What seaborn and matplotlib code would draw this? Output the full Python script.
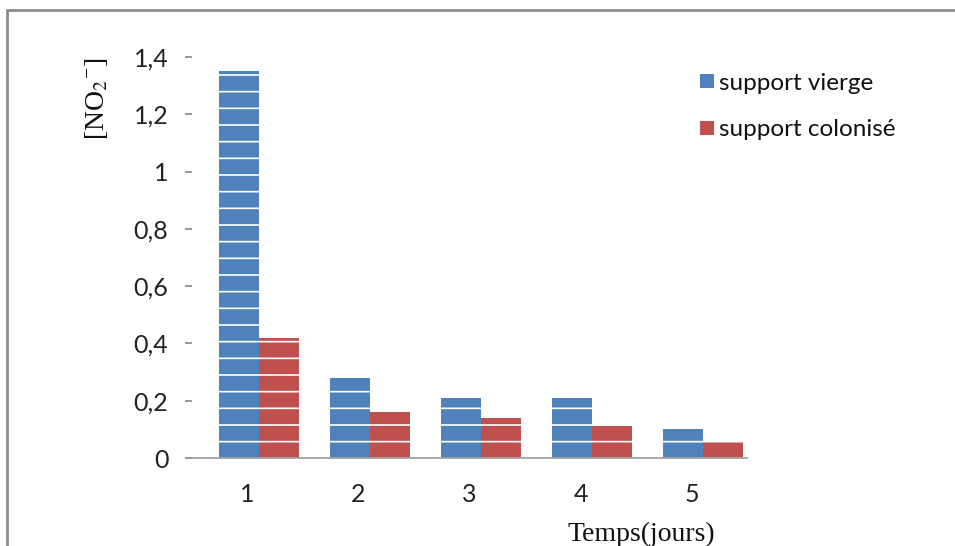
import matplotlib
matplotlib.use("Agg")
import matplotlib.pyplot as plt
import seaborn as sns
import pandas as pd
from matplotlib.lines import Line2D

# Nitrite concentration over time for the two supports
jours = ["1", "2", "3", "4", "5"]
support_vierge = [1.35, 0.28, 0.21, 0.21, 0.10]
support_colonise = [0.42, 0.16, 0.14, 0.11, 0.06]
series_names = ["support vierge", "support colonisé"]
y_ticks = [0, 0.2, 0.4, 0.6, 0.8, 1.0, 1.2, 1.4]
y_tick_labels = ["0", "0,2", "0,4", "0,6", "0,8", "1", "1,2", "1,4"]

df = pd.DataFrame({
    "jour": jours * 2,
    "valeur": support_vierge + support_colonise,
    "serie": [series_names[0]] * len(jours) + [series_names[1]] * len(jours),
})

sns.set_theme(style="white")
plt.rcParams["font.family"] = ["Lato", "DejaVu Sans"]
plt.rcParams["mathtext.fontset"] = "stix"
plt.rcParams["hatch.color"] = "white"
plt.rcParams["hatch.linewidth"] = 1.2

fig = plt.figure(figsize=(9.55, 5.46), dpi=100)
ax = fig.add_axes([192 / 955, 1 - 458 / 546, 555 / 955, 401 / 546])

palette = {series_names[0]: "#4f81bd", series_names[1]: "#c0504d"}
sns.barplot(data=df, x="jour", y="valeur", hue="serie", palette=palette,
            width=0.72, saturation=1, ax=ax, legend=False)
# bars sit slightly right of the category centre, as in a perspective view
for bar in ax.patches:
    bar.set_hatch("-")
    bar.set_linewidth(0)
    bar.set_x(bar.get_x() + 0.1)

ax.set_xlim(-0.5, 4.5)
ax.set_ylim(0, 1.4)
ax.set_yticks(y_ticks)
ax.set_yticklabels(y_tick_labels, fontsize=18, color="#222222")
ax.set_xticks(range(len(jours)))
ax.set_xticklabels(jours, fontsize=18, color="#222222")
ax.set_xticks([i - 0.5 for i in range(len(jours) + 1)], minor=True)

ax.tick_params(axis="x", which="major", length=0, pad=18)
ax.tick_params(axis="x", which="minor", length=8, width=1.2, color="#888888",
               direction="out")
ax.tick_params(axis="y", which="major", length=5, width=1.2, color="#888888",
               direction="out", pad=12, left=True)

for side in ["top", "right", "left"]:
    ax.spines[side].set_visible(False)
ax.spines["bottom"].set_color("#999999")
ax.spines["bottom"].set_linewidth(1.2)

ax.set_xlabel("Temps(jours)", fontsize=20, family="Liberation Serif",
              color="#111111")
ax.xaxis.set_label_coords(0.81, -0.16)
ax.set_ylabel(r"[NO$_2$$^{\mathdefault{-}}$]", fontsize=20,
              family="Liberation Serif", color="#111111")
ax.yaxis.set_label_coords(-0.147, 0.895)

handles = [Line2D([0], [0], marker="s", linestyle="none", markersize=10,
                  markerfacecolor=palette[n], markeredgewidth=0)
           for n in series_names]
leg = fig.legend(handles, series_names, loc="upper left",
                 bbox_to_anchor=(690 / 955, 1 - 63 / 546), frameon=False,
                 fontsize=17.5, handlelength=0.6, handletextpad=0.2,
                 labelspacing=1.05, borderaxespad=0)
for t in leg.get_texts():
    t.set_color("#111111")

# outer chart frame
fig.add_artist(Line2D([7 / 955, 7 / 955], [0, 1 - 10 / 546],
                      transform=fig.transFigure, color="#8c8c8c", lw=2))
fig.add_artist(Line2D([7 / 955, 1], [1 - 10 / 546, 1 - 10 / 546],
                      transform=fig.transFigure, color="#8c8c8c", lw=2))

fig.savefig("out.png", dpi=100, facecolor="white")
